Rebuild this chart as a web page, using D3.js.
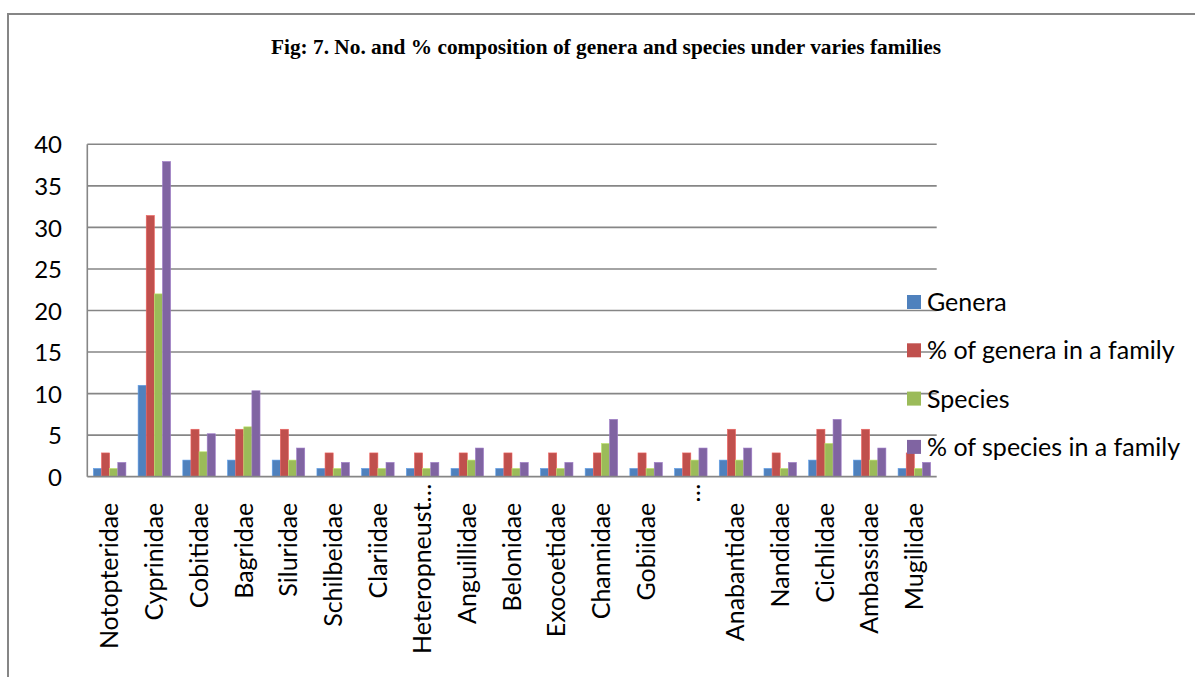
<!DOCTYPE html>
<html>
<head>
<meta charset="utf-8">
<script src="https://cdn.jsdelivr.net/npm/d3@7"></script>
<style>
  html, body { margin: 0; padding: 0; background: #fff; }
  svg { display: block; }
  text { fill: #000; }
</style>
</head>
<body>
<svg id="chart" width="1195" height="677"></svg>
<script>
// Fish families and their genera / species counts
const families = [
  "Notopteridae", "Cyprinidae", "Cobitidae", "Bagridae", "Siluridae",
  "Schilbeidae", "Clariidae", "Heteropneust\u2026", "Anguillidae", "Belonidae",
  "Exocoetidae", "Channidae", "Gobiidae", "\u2026", "Anabantidae",
  "Nandidae", "Cichlidae", "Ambassidae", "Mugilidae"
];
const genera      = [1, 11, 2, 2, 2, 1, 1, 1, 1, 1, 1, 1, 1, 1, 2, 1, 2, 2, 1];
const generaPct   = [2.86, 31.43, 5.71, 5.71, 5.71, 2.86, 2.86, 2.86, 2.86, 2.86, 2.86, 2.86, 2.86, 2.86, 5.71, 2.86, 5.71, 5.71, 2.86];
const species     = [1, 22, 3, 6, 2, 1, 1, 1, 2, 1, 1, 4, 1, 2, 2, 1, 4, 2, 1];
const speciesPct  = [1.72, 37.93, 5.17, 10.34, 3.45, 1.72, 1.72, 1.72, 3.45, 1.72, 1.72, 6.90, 1.72, 3.45, 3.45, 1.72, 6.90, 3.45, 1.72];

const seriesNames = ["Genera", "% of genera in a family", "Species", "% of species in a family"];
const seriesData  = [genera, generaPct, species, speciesPct];
const seriesColors = ["#4F81BD", "#C0504D", "#9BBB59", "#8064A2"];
const yTicks = [0, 5, 10, 15, 20, 25, 30, 35, 40];

const titleText = "Fig: 7. No. and % composition of genera and species under varies families";

const svg = d3.select("#chart");
const W = 1195, H = 677;
const plot = { left: 87.3, right: 936.7, top: 144.3, bottom: 476.7 };
const gridColor = "#868686";
const labelFont = "Lato, 'Open Sans', sans-serif";

// outer frame (left and top edges)
svg.append("path")
  .attr("d", `M8,${H} V14 H${W}`)
  .attr("fill", "none")
  .attr("stroke", gridColor)
  .attr("stroke-width", 2);

// title
svg.append("text")
  .attr("x", 606)
  .attr("y", 54)
  .attr("text-anchor", "middle")
  .attr("font-family", "'Liberation Serif', 'Times New Roman', serif")
  .attr("font-weight", "bold")
  .attr("font-size", 21)
  .attr("textLength", 670)
  .attr("lengthAdjust", "spacingAndGlyphs")
  .text(titleText);

// scales
const x0 = d3.scaleBand()
  .domain(families)
  .range([plot.left, plot.right])
  .paddingInner(0)
  .paddingOuter(0);

const x1 = d3.scaleBand()
  .domain(seriesNames)
  .range([0, x0.bandwidth()])
  .paddingInner(0)
  .paddingOuter(0.75);

const y = d3.scaleLinear()
  .domain([0, 40])
  .range([plot.bottom, plot.top]);

// horizontal gridlines
svg.append("g")
  .selectAll("line")
  .data(yTicks.filter(t => t > 0))
  .join("line")
  .attr("x1", plot.left)
  .attr("x2", plot.right)
  .attr("y1", d => y(d))
  .attr("y2", d => y(d))
  .attr("stroke", gridColor)
  .attr("stroke-width", 1.6);

// y axis (labels only, plus the vertical axis line)
const yAxis = d3.axisLeft(y).tickValues(yTicks).tickSize(0).tickPadding(0);
const yG = svg.append("g")
  .attr("transform", `translate(62,0)`)
  .call(yAxis);
yG.select(".domain").remove();
yG.selectAll("text")
  .attr("font-family", labelFont)
  .attr("font-size", 24)
  .attr("fill", "#000")
  .attr("dy", "0.36em");

svg.append("line")
  .attr("x1", plot.left).attr("x2", plot.left)
  .attr("y1", plot.top).attr("y2", plot.bottom)
  .attr("stroke", gridColor)
  .attr("stroke-width", 1.6);

// bars
const groups = svg.append("g")
  .selectAll("g")
  .data(families.map((f, i) => ({ family: f, idx: i })))
  .join("g")
  .attr("transform", d => `translate(${x0(d.family)},0)`);

groups.selectAll("rect")
  .data(d => seriesNames.map((s, k) => ({ series: s, k, value: seriesData[k][d.idx] })))
  .join("rect")
  .attr("x", d => x1(d.series))
  .attr("width", x1.bandwidth())
  .attr("y", d => y(d.value))
  .attr("height", d => y(0) - y(d.value))
  .attr("fill", d => seriesColors[d.k])
  .attr("stroke", d => d3.color(seriesColors[d.k]).brighter(0.6))
  .attr("stroke-width", 0.6);

// x axis line
svg.append("line")
  .attr("x1", plot.left).attr("x2", plot.right)
  .attr("y1", plot.bottom).attr("y2", plot.bottom)
  .attr("stroke", gridColor)
  .attr("stroke-width", 1.8);

// category labels, rotated
const xAxis = d3.axisBottom(x0).tickSize(0).tickPadding(0);
const xG = svg.append("g")
  .attr("transform", `translate(0,${plot.bottom})`)
  .call(xAxis);
xG.select(".domain").remove();
xG.selectAll("text")
  .attr("font-family", labelFont)
  .attr("font-size", 25)
  .attr("fill", "#000")
  .attr("text-anchor", "end")
  .attr("transform", d => d.includes("\u2026") ? "translate(0,7) rotate(-90)" : "translate(0,26) rotate(-90)")
  .attr("x", 0)
  .attr("y", 0)
  .attr("dy", "0.35em");

// legend
const legend = svg.append("g")
  .selectAll("g")
  .data(seriesNames)
  .join("g")
  .attr("transform", (d, i) => `translate(907,${302 + i * 48.3})`);

legend.append("rect")
  .attr("x", 0)
  .attr("y", -7)
  .attr("width", 14)
  .attr("height", 14)
  .attr("fill", (d, i) => seriesColors[i]);

legend.append("text")
  .attr("x", 20)
  .attr("y", 0)
  .attr("dy", "0.36em")
  .attr("font-family", labelFont)
  .attr("font-size", 25)
  .text(d => d);
</script>
</body>
</html>
